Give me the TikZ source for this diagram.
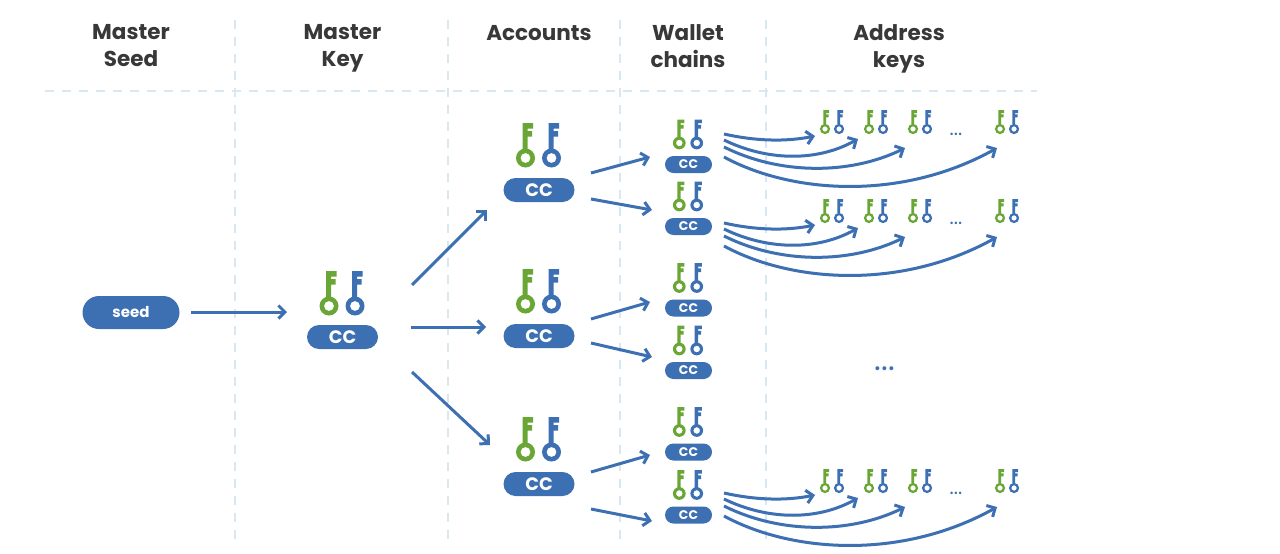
\documentclass[tikz,border=0pt]{standalone}
\usepackage{fontspec}
\setmainfont{Poppins}
\usetikzlibrary{arrows.meta,shapes.misc}
\definecolor{kgreen}{HTML}{6AA636}
\definecolor{kblue}{HTML}{3D70B2}
\definecolor{gridc}{HTML}{D8E8F2}
\definecolor{headc}{HTML}{383838}
\tikzset{
  x=1pt,y=-1pt,
  flow/.style={draw=kblue,line width=3pt,-{Straight Barb[length=6.5pt,width=13pt,line width=3pt]}},
  grid/.style={draw=gridc,line width=1.2pt,dash pattern=on 9pt off 8pt},
  head/.style={text=headc,font=\fontsize{21.5}{27}\selectfont\bfseries,align=center,inner sep=0pt},
  pillbase/.style={fill=kblue,text=white,inner sep=0pt,font=\bfseries},
  pilla/.style={pillbase,rounded rectangle,minimum width=71pt,minimum height=24pt,font=\fontsize{18}{18}\selectfont\bfseries},
  pillb/.style={pillbase,rounded rectangle,minimum width=47pt,minimum height=17pt,font=\fontsize{12.5}{12.5}\selectfont\bfseries},
  pillc/.style={pillbase,rounded rectangle,minimum width=97pt,minimum height=33pt,font=\fontsize{15}{15}\selectfont\bfseries},
  keypair/.pic={
    \fill[kgreen,even odd rule] (0,0) circle (9.5) (0,0) circle (5);
    \fill[kgreen] (-3,-8) -- (-3,-35) -- (7.5,-35) -- (7.5,-29.5) -- (2,-29.5) -- (2,-27) -- (6.5,-27) -- (6.5,-21.5) -- (2,-21.5) -- (2,-8) -- cycle;
    \fill[kblue,even odd rule] (26,0) circle (9.5) (26,0) circle (5);
    \fill[kblue] (23,-8) -- (23,-35) -- (33.5,-35) -- (33.5,-29.5) -- (28,-29.5) -- (28,-27) -- (32.5,-27) -- (32.5,-21.5) -- (28,-21.5) -- (28,-8) -- cycle;
  }
}
\begin{document}
\begin{tikzpicture}
\useasboundingbox (0,0) rectangle (1280,554);
\fill[white] (0,0) rectangle (1280,554);
% grid
\foreach \gx in {235,448,620,766} \draw[grid] (\gx,20) -- (\gx,540);
\draw[grid] (45,91) -- (1037,91);
% headers
\node[head] (h1) at (131,46) {Master\\Seed};
\node[head] (h2) at (342.5,48) {Master\\Key};
\node[head] (h3) at (539,33) {Accounts};
\node[head] (h4) at (688,46) {Wallet\\chains};
\node[head] (h5) at (899,48.5) {Address\\keys};
% seed and master
\node[pillc] (seed) at (131,312.5) {seed};
\node[pilla] (master) at (342.5,337) {CC};
\pic at (329,306) {keypair};
% accounts
\foreach \n/\py in {acA/190,acB/336,acC/484}{
  \node[pilla] (\n) at (539,\py) {CC};
  \pic at (525.5,\py-32) {keypair};
}
% wallets
\foreach \n/\py in {wA/164.5,wB/226.5,wC/308,wD/370.5,wE/452,wF/515}{
  \node[pillb] (\n) at (688.5,\py) {CC};
  \pic[scale=0.67] at (679.3,\py-21.5) {keypair};
}
% address keys
\foreach \d in {0,89,359}{
  \foreach \kx in {825,869,913,1000}{
    \pic[scale=0.54] at (\kx,129+\d) {keypair};
  }
  \node[text=kblue,font=\fontsize{20}{20}\selectfont,inner sep=0pt] at (956,134+\d) {...};
}
\node[text=kblue,font=\fontsize{32}{32}\selectfont,inner sep=0pt] (more) at (885,368.5) {...};
% straight connector ends
\coordinate (s0) at (191,312); \coordinate (e0) at (287,312);
\draw[flow] (s0) -- (e0);
\foreach \i/\ax/\ay/\bx/\by in {
  1/412/285/487/210, 2/411/327/486/327, 3/412/372/490/445,
  4/591/173/650/157, 5/591/199/652/210,
  6/591/319/650/302, 7/591/343/652/357,
  8/591/472/650/455, 9/591/509/652/521}{
  \coordinate (s\i) at (\ax,\ay);
  \coordinate (e\i) at (\bx,\by);
  \draw[flow] (s\i) -- (e\i);
}
% fans
\foreach \d in {0,89,359}{
  \coordinate (fa) at (724,134+\d);
  \coordinate (fb) at (724,140+\d);
  \coordinate (fc) at (724,147+\d);
  \coordinate (fd) at (724,157+\d);
  \coordinate (ta) at (815,136+\d);
  \coordinate (tb) at (858,139+\d);
  \coordinate (tc) at (905,148+\d);
  \coordinate (td) at (997,148+\d);
  \draw[flow] (fa) .. controls (755,141+\d) and (785,142+\d) .. (ta);
  \draw[flow] (fb) .. controls (765,160+\d) and (815,163+\d) .. (tb);
  \draw[flow] (fc) .. controls (780,175+\d) and (850,175+\d) .. (tc);
  \draw[flow] (fd) .. controls (790,193+\d) and (900,202+\d) .. (td);
}
\end{tikzpicture}
\end{document}
